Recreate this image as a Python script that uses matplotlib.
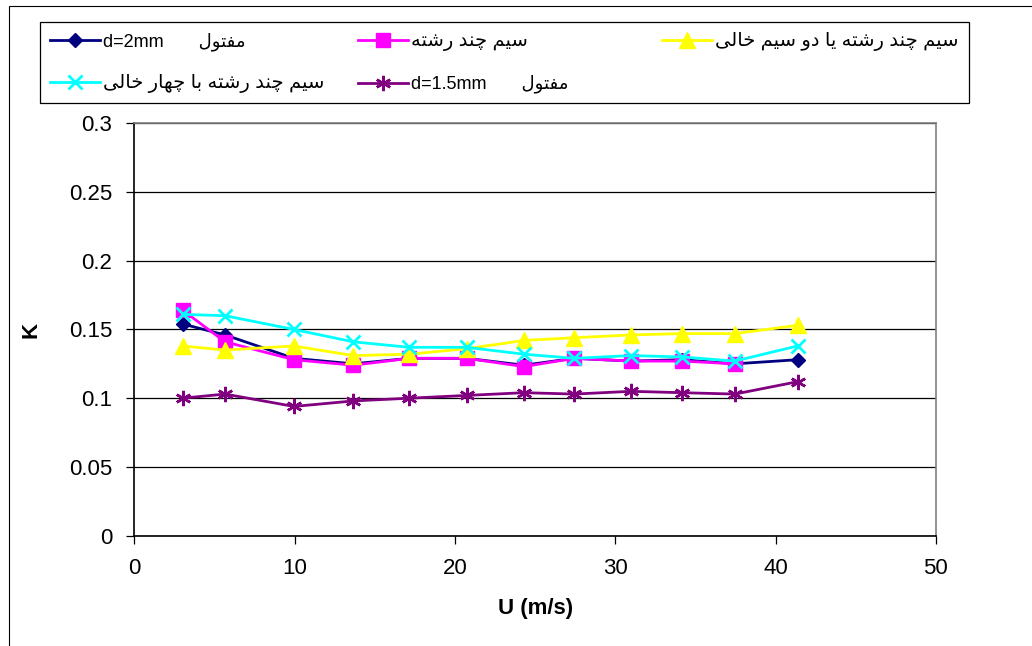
import matplotlib
matplotlib.use("Agg")
import matplotlib.pyplot as plt
from matplotlib.patches import Rectangle

# joining forms for the Persian letters used: isolated, final, initial, medial
FORMS = {
    'ا': ('\uFE8D', '\uFE8E', None, None),
    'ب': ('\uFE8F', '\uFE90', '\uFE91', '\uFE92'),
    'ت': ('\uFE95', '\uFE96', '\uFE97', '\uFE98'),
    'خ': ('\uFEA5', '\uFEA6', '\uFEA7', '\uFEA8'),
    'د': ('\uFEA9', '\uFEAA', None, None),
    'ر': ('\uFEAD', '\uFEAE', None, None),
    'س': ('\uFEB1', '\uFEB2', '\uFEB3', '\uFEB4'),
    'ش': ('\uFEB5', '\uFEB6', '\uFEB7', '\uFEB8'),
    'ف': ('\uFED1', '\uFED2', '\uFED3', '\uFED4'),
    'ل': ('\uFEDD', '\uFEDE', '\uFEDF', '\uFEE0'),
    'م': ('\uFEE1', '\uFEE2', '\uFEE3', '\uFEE4'),
    'ن': ('\uFEE5', '\uFEE6', '\uFEE7', '\uFEE8'),
    'ه': ('\uFEE9', '\uFEEA', '\uFEEB', '\uFEEC'),
    'و': ('\uFEED', '\uFEEE', None, None),
    'ی': ('\uFBFC', '\uFBFD', '\uFBFE', '\uFBFF'),
    'چ': ('\uFB7A', '\uFB7B', '\uFB7C', '\uFB7D'),
}


def rtl(text):
    # matplotlib has no Arabic shaping, so pick contextual forms and reverse
    out = []
    for i, ch in enumerate(text):
        if ch not in FORMS:
            out.append(ch)
            continue
        prev = text[i - 1] if i > 0 else ''
        nxt = text[i + 1] if i + 1 < len(text) else ''
        iso, fin, ini, med = FORMS[ch]
        joins_prev = prev in FORMS and FORMS[prev][2] is not None
        joins_next = ini is not None and nxt in FORMS
        if joins_prev and joins_next:
            out.append(med)
        elif joins_prev:
            out.append(fin)
        elif joins_next:
            out.append(ini)
        else:
            out.append(iso)
    return ''.join(reversed(out))


u = [3.0, 5.65, 9.95, 13.65, 17.15, 20.72, 24.3, 27.44, 30.97, 34.17, 37.46, 41.37]

k_wire_2mm = [0.154, 0.146, 0.129, 0.125, 0.129, 0.129, 0.124, 0.129, 0.127, 0.128, 0.125, 0.128]
k_stranded = [0.164, 0.141, 0.128, 0.124, 0.129, 0.129, 0.123, 0.129, 0.127, 0.127, 0.125]
k_two_wires = [0.138, 0.135, 0.138, 0.131, 0.132, 0.136, 0.142, 0.144, 0.146, 0.147, 0.147, 0.153]
k_four_wires = [0.161, 0.160, 0.150, 0.141, 0.137, 0.137, 0.132, 0.129, 0.131, 0.130, 0.127, 0.138]
k_wire_15mm = [0.100, 0.103, 0.094, 0.098, 0.100, 0.102, 0.104, 0.103, 0.105, 0.104, 0.103, 0.112]

labels = [
    'd=2mm       ' + rtl('مفتول'),
    rtl('سیم چند رشته'),
    rtl('سیم چند رشته یا دو سیم خالی'),
    rtl('سیم چند رشته با چهار خالی'),
    'd=1.5mm       ' + rtl('مفتول') + '            ',
]

plt.rcParams['font.family'] = ['Liberation Sans', 'DejaVu Sans']

fig = plt.figure(figsize=(10.32, 6.46), dpi=100)
ax = fig.add_axes([0.1303, 0.1708, 0.7766, 0.6384])

# chart area border
fig.patches.append(Rectangle((9 / 1032, -0.1), 1.2, 1.1 - 6 / 646, transform=fig.transFigure,
                             fill=False, edgecolor='black', linewidth=0.8))

h1, = ax.plot(u, k_wire_2mm, color='#000080', lw=2, marker='D', ms=7.5)
h2, = ax.plot(u[:len(k_stranded)], k_stranded, color='#FF00FF', lw=2, marker='s', ms=10.5)
h3, = ax.plot(u, k_two_wires, color='#FFFF00', lw=2, marker='^', ms=11)
h4, = ax.plot(u, k_four_wires, color='#00FFFF', lw=2, marker='x', ms=10, mew=2)
h5, = ax.plot(u, k_wire_15mm, color='#800080', lw=2, marker=(6, 2, 0), ms=11, mew=1.8)

ax.set_xlim(0, 50)
ax.set_ylim(0, 0.3)
ax.set_xticks([0, 10, 20, 30, 40, 50])
ax.set_yticks([0, 0.05, 0.1, 0.15, 0.2, 0.25, 0.3])
ax.set_yticklabels(['0', '0.05', '0.1', '0.15', '0.2', '0.25', '0.3'])
ax.yaxis.grid(True, color='black', lw=0.9)
ax.set_axisbelow(True)
ax.tick_params(labelsize=16, length=6, width=0.9, pad=10, direction='out')

for side in ['top', 'right']:
    ax.spines[side].set_color('#808080')
    ax.spines[side].set_linewidth(1.2)
for side in ['left', 'bottom']:
    ax.spines[side].set_linewidth(1.2)

ax.set_xlabel('U (m/s)', fontsize=16, fontweight='bold', labelpad=14)
ax.set_ylabel('K', fontsize=16, fontweight='bold', labelpad=20)

# legend rows: h1 h2 h3 / h4 h5 (filled column by column)
leg = fig.legend([h1, h4, h2, h5, h3],
                 [labels[0], labels[3], labels[1], labels[4], labels[2]],
                 ncol=3, loc='upper left', bbox_to_anchor=(40 / 1032, 1 - 22 / 646),
                 borderaxespad=0, fontsize=12, handlelength=3.0, handletextpad=0.2,
                 columnspacing=2.0, fancybox=False, edgecolor='black', framealpha=1,
                 borderpad=0.6, labelspacing=1.4)
leg.get_frame().set_linewidth(0.9)
for t in leg.get_texts():
    t.set_fontsize(13 if t.get_text().startswith('d=') else 14)

fig.savefig('out.png', dpi=100)
